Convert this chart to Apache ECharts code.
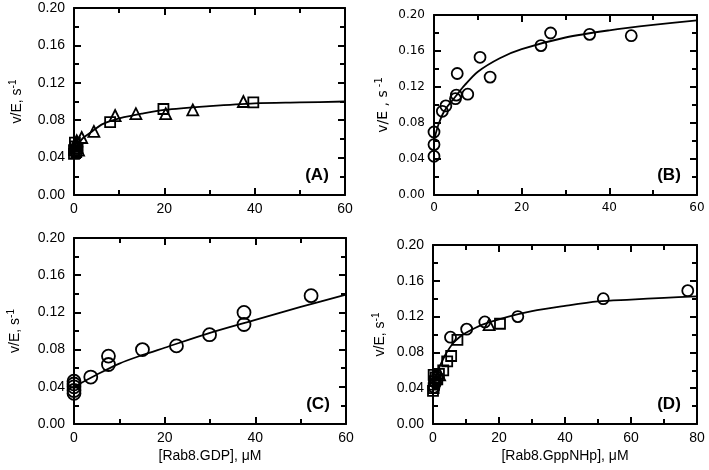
<!DOCTYPE html>
<html>
<head>
<meta charset="utf-8">
<script src="https://cdn.jsdelivr.net/npm/echarts@6/dist/echarts.min.js"></script>
<style>html,body{margin:0;padding:0;background:#fff}#c{width:709px;height:470px}</style>
</head>
<body>
<div id="c"></div>
<script>
// ---- Data ----
const yTicks = [0, 0.04, 0.08, 0.12, 0.16, 0.20];
const xMaxABC = 60;
const xMaxD = 80;

// Panel A
const aSquares = [[0,0.044],[0,0.048],[0.3,0.052],[0.2,0.056],[0.8,0.050],[0.5,0.046],[8.0,0.078],[19.8,0.092],[39.7,0.099]];
const aTriangles = [[0.5,0.054],[1.0,0.048],[0.2,0.050],[0.6,0.058],[1.7,0.0615],[4.4,0.068],[9.1,0.085],[13.7,0.087],[20.3,0.087],[26.3,0.091],[37.5,0.100]];
const aCurve = [[0,0.048],[1,0.055],[2,0.061],[4,0.068],[6,0.075],[8,0.079],[10,0.082],[15,0.087],[20,0.091],[30,0.095],[40,0.098],[50,0.099],[60,0.100]];

// Panel B
const bCircles = [[0,0.043],[0,0.056],[0,0.070],[1.9,0.093],[2.7,0.099],[4.9,0.107],[5.1,0.111],[5.3,0.135],[7.7,0.112],[10.5,0.153],[12.8,0.131],[24.4,0.166],[26.6,0.180],[35.5,0.1785],[45.0,0.177]];
const bCurve = [[0,0.060],[0.5,0.070],[1,0.078],[2,0.090],[3,0.098],[4,0.104],[5,0.110],[7,0.122],[10,0.137],[15,0.152],[20,0.162],[30,0.175],[40,0.183],[50,0.189],[60,0.194]];

// Panel C
const cCircles = [[0,0.033],[0,0.036],[0,0.040],[0,0.043],[0,0.046],[3.7,0.0505],[7.6,0.073],[7.6,0.064],[15.1,0.080],[22.6,0.084],[29.9,0.096],[37.5,0.120],[37.5,0.107],[52.3,0.138]];
const cCurve = [[0,0.040],[5,0.053],[10,0.065],[15,0.074],[20,0.082],[30,0.098],[40,0.112],[50,0.126],[60,0.139]];

// Panel D
const dSquares = [[0,0.037],[0.2,0.040],[0.3,0.044],[0.5,0.048],[0.8,0.052],[0.2,0.055],[1.3,0.050],[1.8,0.056],[3.1,0.060],[4.3,0.070],[5.5,0.076],[7.4,0.094],[20.3,0.112]];
const dCircles = [[0.3,0.041],[0.8,0.046],[5.3,0.097],[10.2,0.106],[15.7,0.114],[25.7,0.120],[51.6,0.140],[77.2,0.149]];
const dTriangles = [[17,0.111],[2.0,0.055]];
const dCurve = [[0,0.038],[0.5,0.048],[1,0.055],[2,0.064],[3,0.072],[4,0.079],[6,0.090],[8,0.097],[10,0.102],[15,0.111],[20,0.117],[30,0.126],[40,0.132],[50,0.137],[60,0.139],[70,0.141],[80,0.1425]];

const panelLabels = ['(A)', '(B)', '(C)', '(D)'];
const xTitles = ['', '', '[Rab8.GDP], \u03bcM', '[Rab8.GppNHp], \u03bcM'];

// ---- Layout ----
const ARIAL = 'Liberation Sans';
const VERD = 'DejaVu Sans';
const grids = [
  {left: 74, top: 8, width: 271, height: 187},
  {left: 434, top: 15, width: 263, height: 180},
  {left: 74, top: 238, width: 272, height: 186},
  {left: 433, top: 245, width: 264, height: 179}
];
const fonts = [
  {family: ARIAL, size: 14, yGap: 48, yName: '{a|v/E, s}{b|-1}'},
  {family: VERD, size: 12, yGap: 42, yName: '{a|v/E , s}{b| -1}'},
  {family: ARIAL, size: 14, yGap: 50, yName: '{a|v/E, s}{b|-1}'},
  {family: ARIAL, size: 14, yGap: 44, yName: '{a|v/E, s}{b|-1}'}
];
const xMaxes = [xMaxABC, xMaxABC, xMaxABC, xMaxD];

const black = '#000';
function axisBase(gi, isX, max, interval, position, showLabel, f) {
  return {
    type: 'value', gridIndex: gi, min: 0, max: max, interval: interval, position: position,
    axisLine: {show: true, onZero: false, lineStyle: {color: black, width: 2}},
    axisTick: {show: true, inside: true, length: 7, lineStyle: {color: black, width: 2}},
    minorTick: {show: true, splitNumber: 2, length: 5, lineStyle: {color: black, width: 2}},
    splitLine: {show: false}, minorSplitLine: {show: false},
    axisLabel: {show: showLabel, color: black, fontFamily: f.family, fontSize: f.size, margin: isX ? 7 : 9,
      formatter: isX ? (v => String(v)) : (v => v.toFixed(2))}
  };
}

const xAxes = [], yAxes = [], series = [], graphics = [];
for (let i = 0; i < 4; i++) {
  const f = fonts[i];
  const xb = axisBase(i, true, xMaxes[i], 20, 'bottom', true, f);
  if (xTitles[i]) {
    xb.name = xTitles[i]; xb.nameLocation = 'middle'; xb.nameGap = 25;
    xb.nameTextStyle = {color: black, fontFamily: f.family, fontSize: 14};
  }
  xAxes.push(xb);
  xAxes.push(axisBase(i, true, xMaxes[i], 20, 'top', false, f));
  const yl = axisBase(i, false, 0.2, 0.04, 'left', true, f);
  yl.name = f.yName; yl.nameLocation = 'middle'; yl.nameRotate = 90; yl.nameGap = f.yGap;
  yl.nameTextStyle = {color: black, rich: {
    a: {fontFamily: f.family, fontSize: 14, lineHeight: 18, color: black},
    b: {fontFamily: f.family, fontSize: 10, lineHeight: 11, verticalAlign: 'top', color: black}
  }};
  yAxes.push(yl);
  yAxes.push(axisBase(i, false, 0.2, 0.04, 'right', false, f));
  const g = grids[i];
  graphics.push({type: 'text', x: g.left + g.width - 28, y: g.top + g.height - 20,
    style: {text: panelLabels[i], font: 'bold 17px ' + ARIAL, fill: black, align: 'center', verticalAlign: 'middle'}});
}

function curve(i, data) {
  return {type: 'line', xAxisIndex: 2*i, yAxisIndex: 2*i, data: data, smooth: 0.3, showSymbol: false,
    lineStyle: {color: black, width: 1.8}, silent: true, z: 2};
}
function pts(i, data, symbol, size) {
  return {type: 'scatter', xAxisIndex: 2*i, yAxisIndex: 2*i, data: data, symbol: symbol, symbolSize: size,
    itemStyle: {color: 'rgba(255,255,255,0)', borderColor: black, borderWidth: 1.8, opacity: 1}, z: 3};
}
series.push(curve(0, aCurve), pts(0, aSquares, 'rect', 10), pts(0, aTriangles, 'triangle', 11));
series.push(curve(1, bCurve), pts(1, bCircles, 'circle', 11));
series.push(curve(2, cCurve), pts(2, cCircles, 'circle', 13));
series.push(curve(3, dCurve), pts(3, dSquares, 'rect', 10), pts(3, dCircles, 'circle', 11), pts(3, dTriangles, 'triangle', 11));

const chart = echarts.init(document.getElementById('c'), null, {renderer: 'canvas'});
chart.setOption({
  animation: false,
  backgroundColor: '#fff',
  grid: grids.map(g => Object.assign({containLabel: false}, g)),
  xAxis: xAxes,
  yAxis: yAxes,
  series: series,
  graphic: graphics
});
</script>
</body>
</html>
